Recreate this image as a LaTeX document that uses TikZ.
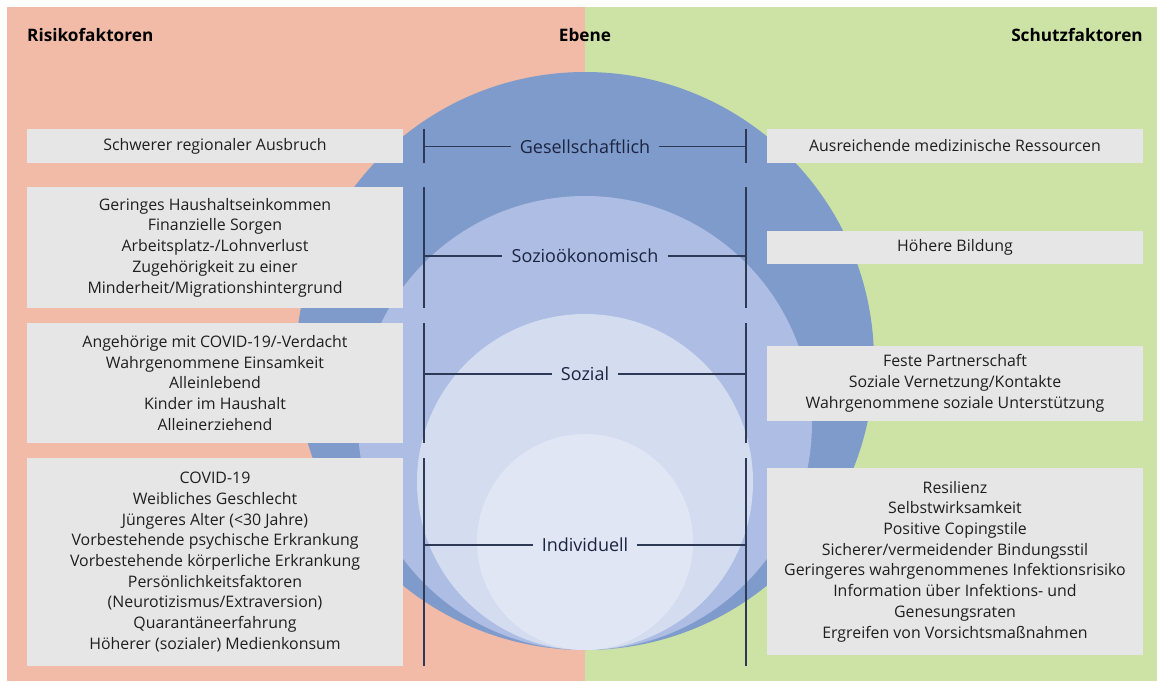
\documentclass[tikz,border=0pt]{standalone}
\usepackage{fontspec}
\setmainfont{Open Sans}

\definecolor{risiko}{HTML}{F1BBA7}
\definecolor{schutz}{HTML}{CCE3A5}
\definecolor{ringA}{HTML}{7F9BCB}
\definecolor{ringB}{HTML}{AEBDE3}
\definecolor{ringC}{HTML}{D4DCF0}
\definecolor{ringD}{HTML}{E1E6F4}
\definecolor{kasten}{HTML}{E6E6E6}
\definecolor{kastentext}{HTML}{1F1F1F}
\definecolor{ebenentext}{HTML}{1B2440}
\definecolor{linie}{HTML}{2E3A55}

\tikzset{
  faktor/.style={fill=kasten, minimum width=376pt, inner sep=0pt, align=center,
    text=kastentext, font=\fontsize{15.9}{20.7}\selectfont},
  ebene/.style={inner sep=0pt, inner xsep=9pt, text=ebenentext,
    font=\fontsize{18}{20}\selectfont},
  kopf/.style={inner sep=0pt, text=black, font=\fontsize{17.2}{20}\selectfont\bfseries},
  skala/.style={draw=linie, line width=1.3pt}
}

\begin{document}
\begin{tikzpicture}[x=1pt,y=-1pt]
	\useasboundingbox (0,0) rectangle (1157,681);
	\fill[white] (0,0) rectangle (1157,681);
	\fill[risiko] (7,7) rectangle (585,681);
	\fill[schutz] (585,7) rectangle (1157,681);

	% Ebenen als Kreise, unten aufeinander liegend
	\fill[ringA] (585,361) circle (289);
	\fill[ringB] (585,423) circle (227);
	\fill[ringC] (585,482) circle (168);
	\fill[ringD] (585,542) circle (108);

	\node[kopf, anchor=west] (risk) at (27,35) {Risikofaktoren};
	\node[kopf] (ebene) at (585,35) {Ebene};
	\node[kopf, anchor=east] (schutz) at (1143,35) {Schutzfaktoren};

	% Risikofaktoren
	\node[faktor, minimum height=34pt] (r1) at (215,146) {Schwerer regionaler Ausbruch};
	\node[faktor, minimum height=121pt] (r2) at (215,247.5) {Geringes Haushaltseinkommen\\Finanzielle Sorgen\\Arbeitsplatz-/Lohnverlust\\Zugehörigkeit zu einer\\Minderheit/Migrationshintergrund};
	\node[faktor, minimum height=120pt] (r3) at (215,383) {Angehörige mit COVID-19/-Verdacht\\Wahrgenommene Einsamkeit\\Alleinlebend\\Kinder im Haushalt\\Alleinerziehend};
	\node[faktor, minimum height=208pt] (r4) at (215,562) {COVID-19\\Weibliches Geschlecht\\Jüngeres Alter (<30 Jahre)\\Vorbestehende psychische Erkrankung\\Vorbestehende körperliche Erkrankung\\Persönlichkeitsfaktoren\\(Neurotizismus/Extraversion)\\Quarantäneerfahrung\\Höherer (sozialer) Medienkonsum};

	% Schutzfaktoren
	\node[faktor, minimum height=34pt] (s1) at (955,146) {Ausreichende medizinische Ressourcen};
	\node[faktor, minimum height=33pt] (s2) at (955,247.5) {Höhere Bildung};
	\node[faktor, minimum height=75pt] (s3) at (955,383.5) {Feste Partnerschaft\\Soziale Vernetzung/Kontakte\\Wahrgenommene soziale Unterstützung};
	\node[faktor, minimum height=187pt] (s4) at (955,561.5) {Resilienz\\Selbstwirksamkeit\\Positive Copingstile\\Sicherer/vermeidender Bindungsstil\\Geringeres wahrgenommenes Infektionsrisiko\\Information über Infektions- und\\Genesungsraten\\Ergreifen von Vorsichtsmaßnahmen};

	% Ebenen mit Skalen
	\node[ebene] (ges) at (585,146.5) {Gesellschaftlich};
	\node[ebene] (soz) at (585,256) {Sozioökonomisch};
	\node[ebene] (sol) at (585,374) {Sozial};
	\node[ebene] (ind) at (585,545) {Individuell};

	\coordinate (gesL) at (424,146.5);
	\coordinate (gesR) at (746,146.5);
	\coordinate (sozL) at (424,256);
	\coordinate (sozR) at (746,256);
	\coordinate (solL) at (424,374);
	\coordinate (solR) at (746,374);
	\coordinate (indL) at (424,545);
	\coordinate (indR) at (746,545);

	\draw[skala] (424,129) -- (gesL) -- (424,163);
	\draw[skala] (746,129) -- (gesR) -- (746,163);
	\draw[skala] (424,187) -- (sozL) -- (424,308);
	\draw[skala] (746,187) -- (sozR) -- (746,308);
	\draw[skala] (424,323) -- (solL) -- (424,443);
	\draw[skala] (746,323) -- (solR) -- (746,443);
	\draw[skala] (424,458) -- (indL) -- (424,666);
	\draw[skala] (746,458) -- (indR) -- (746,666);

	\draw[skala] (gesL) -- (ges) -- (gesR);
	\draw[skala] (sozL) -- (soz) -- (sozR);
	\draw[skala] (solL) -- (sol) -- (solR);
	\draw[skala] (indL) -- (ind) -- (indR);
\end{tikzpicture}
\end{document}
